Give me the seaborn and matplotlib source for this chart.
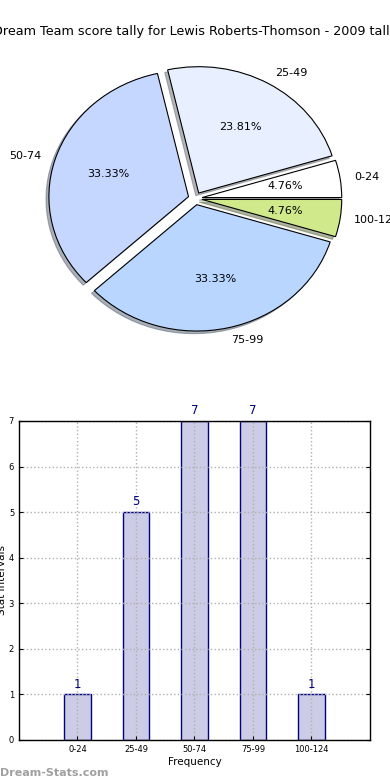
import pandas as pd
import seaborn as sns
import matplotlib.pyplot as plt

# данные
intervals = ['0-24', '25-49', '50-74', '75-99', '100-124']
counts = [1, 5, 7, 7, 1]
pie_colors = ['#ffffff', '#e8f0ff', '#c5d7ff', '#b8d6ff', '#cfe98b']
title = 'Dream Team score tally for Lewis Roberts-Thomson - 2009 tally'

sns.set_style("white")
plt.rcParams['font.family'] = ['DejaVu Sans']
plt.rcParams['text.color'] = 'black'
plt.rcParams['axes.labelcolor'] = 'black'
plt.rcParams['xtick.color'] = 'black'
plt.rcParams['ytick.color'] = 'black'

fig = plt.figure(figsize=(3.9, 7.8), dpi=100)

# круговая диаграмма
ax1 = fig.add_axes([0.053, 0.543, 0.895, 0.405])
ax1.pie(counts, labels=intervals, colors=pie_colors, explode=[0.05] * len(counts),
        autopct='%1.2f%%', shadow={'ox': -0.015, 'oy': -0.015, 'shade': 0.55},
        startangle=0,
        wedgeprops={'edgecolor': 'black', 'linewidth': 0.8},
        textprops={'fontsize': 8})
ax1.set_aspect('auto')
ax1.set_xlim(-1.25, 1.25)
ax1.set_ylim(-1.25, 1.25)
ax1.set_title(title, fontsize=9.2, pad=4)

# столбчатая диаграмма
df = pd.DataFrame({'interval': intervals, 'count': counts})
ax2 = fig.add_axes([0.0487, 0.0513, 0.9, 0.409])
sns.barplot(data=df, x='interval', y='count', order=intervals, ax=ax2,
            color='#cccce6', saturation=1, width=0.45,
            edgecolor='#000080', linewidth=1)
ax2.set_xlim(-1, 5)
ax2.set_ylim(0, 7)
ax2.set_yticks(range(0, 8))
ax2.grid(True, color='#b0b0b0', linestyle=':', linewidth=1)
ax2.set_axisbelow(False)
for spine in ax2.spines.values():
    spine.set_color('black')
    spine.set_linewidth(1)
    spine.set_zorder(5)
ax2.tick_params(axis='both', direction='in', labelsize=6, length=3,
                right=True, top=False, left=True, bottom=True)
ax2.set_xlabel('Frequency', fontsize=7.5, labelpad=2)
ax2.set_ylabel('Stat Intervals', fontsize=7.5, labelpad=1)

for i, v in enumerate(counts):
    ax2.text(i, v + 0.08, str(v), ha='center', va='bottom', color='#000080', fontsize=8.5)

fig.text(0.0, 0.005, 'Dream-Stats.com', color='#a0a0a0', fontsize=8, fontweight='bold')

plt.savefig('out.png', dpi=100)
